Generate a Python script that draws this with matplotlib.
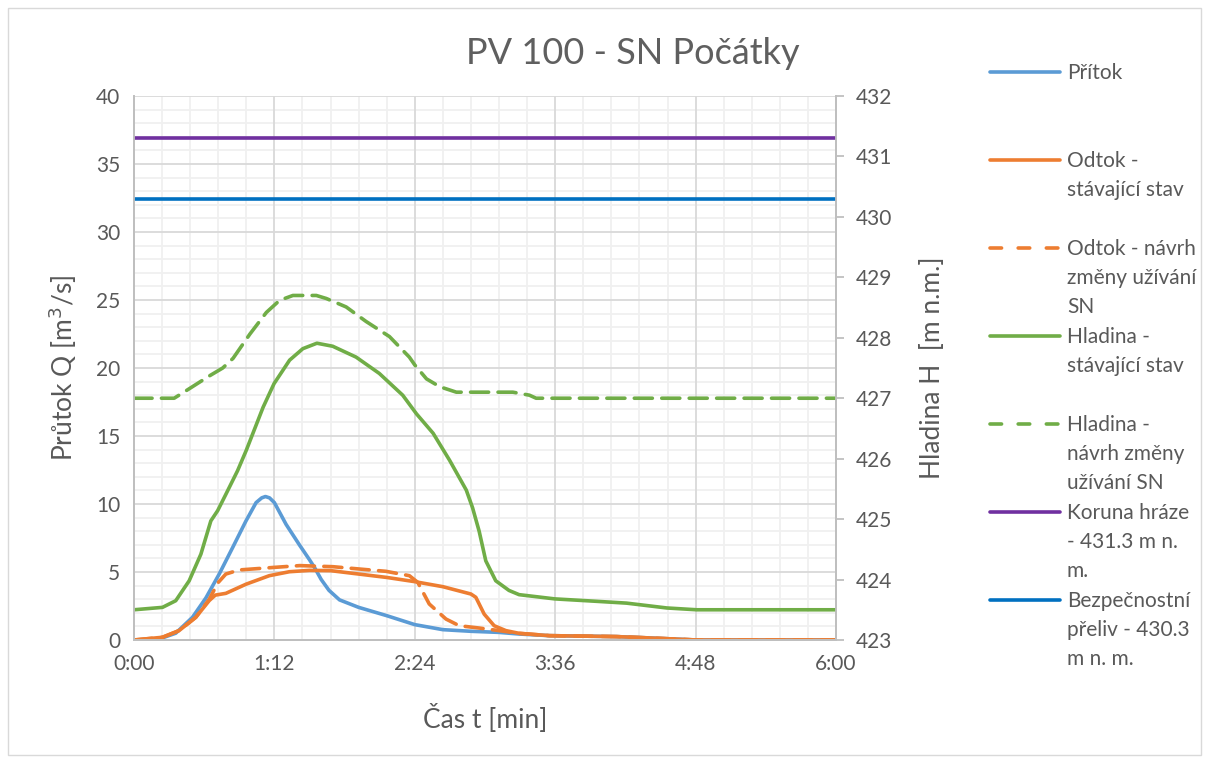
import numpy as np
import matplotlib
matplotlib.use('Agg')
import matplotlib.pyplot as plt
from matplotlib.lines import Line2D
from matplotlib.patches import Rectangle
from matplotlib.ticker import MultipleLocator, FixedLocator, FuncFormatter

plt.rcParams['font.family'] = ['Lato', 'DejaVu Sans']

# data (čas v minutách)
t_pritok = [0, 12.9, 21.4, 30, 36.9, 43.7, 50.6, 57.4, 62.6, 65.5, 67.4, 69.5, 72, 78, 84.8, 90, 92.7, 96,
            100, 105.4, 115.2, 129.6, 144, 158.4, 172.8, 187.2, 197.4, 213, 247.5, 264.6, 288.6, 360]
q_pritok = [0, 0.07, 0.5, 1.67, 3.1, 4.85, 6.8, 8.75, 10.1, 10.45, 10.55, 10.45, 10.1, 8.5, 7.0, 5.9, 5.3, 4.45,
            3.65, 2.95, 2.4, 1.79, 1.13, 0.76, 0.64, 0.56, 0.44, 0.32, 0.25, 0.15, 0.0, 0.0]

t_odtok = [0, 14.6, 23.1, 31.7, 38.6, 41.7, 47.1, 57.4, 69.4, 79.7, 90, 100.8, 115.2, 129.6, 144,
           158.4, 172.8, 175.3, 179.6, 184.7, 190.7, 197.5, 213, 247.5, 264.6, 288.6, 360]
q_odtok = [0, 0.2, 0.69, 1.67, 2.9, 3.3, 3.43, 4.1, 4.73, 5.02, 5.12, 5.1, 4.85, 4.6, 4.29,
           3.92, 3.38, 3.14, 1.9, 1.05, 0.69, 0.49, 0.32, 0.25, 0.15, 0.0, 0.0]

t_odtok_n = [0, 14.6, 23.1, 31.7, 38.6, 43, 47.1, 53.9, 72, 85, 102, 115.5, 129.2, 141.2, 145.5,
             151.4, 160, 166.8, 177, 187.2, 197.5, 213, 247.5, 264.6, 288.6, 360]
q_odtok_n = [0, 0.2, 0.69, 1.67, 3.0, 4.2, 4.85, 5.15, 5.34, 5.47, 5.39, 5.22, 5.05, 4.73, 4.24,
             2.65, 1.54, 1.05, 0.88, 0.69, 0.49, 0.32, 0.25, 0.15, 0.0, 0.0]

t_hladina = [0, 14.6, 21.4, 28.3, 34.3, 39.4, 42.9, 47.1, 53.1, 57.6, 66.2, 71.8, 79.8, 86.6, 93.8,
             101.9, 113.9, 125.8, 137.8, 144.9, 153.4, 161.9, 170.4, 173.6, 177, 180.4, 185.5,
             192.3, 197.5, 215.8, 237.2, 252.6, 273.2, 288.6, 360]
h_hladina = [423.50, 423.54, 423.65, 423.98, 424.42, 424.97, 425.14, 425.41, 425.80, 426.14,
             426.85, 427.24, 427.63, 427.82, 427.91, 427.86, 427.68, 427.41, 427.05, 426.74,
             426.42, 425.97, 425.48, 425.19, 424.80, 424.31, 423.98, 423.82, 423.75, 423.68,
             423.64, 423.61, 423.53, 423.50, 423.50]

t_hladina_n = [0, 20.6, 27.5, 38.7, 45.5, 50.8, 59.4, 67.9, 74.7, 81.5, 93.5, 98.6, 108.8, 119,
               131, 141.2, 144, 150, 156.8, 165.3, 194.3, 202.8, 206.2, 360]
h_hladina_n = [427.00, 427.00, 427.14, 427.37, 427.50, 427.66, 428.06, 428.42, 428.62, 428.70,
               428.70, 428.65, 428.51, 428.27, 428.02, 427.68, 427.55, 427.32, 427.19, 427.10,
               427.10, 427.05, 427.00, 427.00]

koruna = 431.3
preliv = 430.3

labels = ['Přítok', 'Odtok -\nstávající stav', 'Odtok - návrh\nzměny užívání\nSN',
          'Hladina -\nstávající stav', 'Hladina -\nnávrh změny\nužívání SN',
          'Koruna hráze\n- 431.3 m n.\nm.', 'Bezpečnostní\npřeliv - 430.3\nm n. m.']
colors = ['#5B9BD5', '#ED7D31', '#ED7D31', '#70AD47', '#70AD47', '#7030A0', '#0070C0']
styles = ['-', '-', '--', '-', '--', '-', '-']

x_major = [0, 72, 144, 216, 288, 360]
y_major = [0, 5, 10, 15, 20, 25, 30, 35, 40]

txt = '#595959'
lw = 2.6
dash = (5.0, 2.6)
dash_leg = (3.2, 4.6)

fig = plt.figure(figsize=(12.08, 7.6), dpi=100)
fig.add_artist(Rectangle((0.007, 0.006), 0.987, 0.984, transform=fig.transFigure,
                         fill=False, edgecolor='#D9D9D9', lw=1))
ax = fig.add_axes([134/1208, 1-640/760, (836-134)/1208, (640-96)/760])
ax2 = ax.twinx()

ax.plot(t_pritok, q_pritok, color=colors[0], lw=lw, solid_joinstyle='round')
ax.plot(t_odtok_n, q_odtok_n, color=colors[2], lw=lw, ls='--', dashes=dash, dash_capstyle='round')
ax.plot(t_odtok, q_odtok, color=colors[1], lw=lw, solid_joinstyle='round')

ax2.plot(t_hladina, h_hladina, color=colors[3], lw=lw, solid_joinstyle='round')
ax2.plot(t_hladina_n, h_hladina_n, color=colors[4], lw=lw, ls='--', dashes=dash, dash_capstyle='round')
ax2.plot([0, 360], [koruna, koruna], color=colors[5], lw=lw)
ax2.plot([0, 360], [preliv, preliv], color=colors[6], lw=lw)

ax.set_xlim(0, 360)
ax.set_ylim(0, 40)
ax2.set_ylim(423, 432)

ax.xaxis.set_major_locator(FixedLocator(x_major))
ax.xaxis.set_minor_locator(FixedLocator([m * 14.4 for m in range(26) if m % 5 != 0]))
ax.xaxis.set_major_formatter(FuncFormatter(lambda v, p: '%d:%02d' % (int(round(v)) // 60, int(round(v)) % 60)))
ax.yaxis.set_major_locator(FixedLocator(y_major))
ax.yaxis.set_minor_locator(FixedLocator([v for v in range(41) if v % 5 != 0]))
ax2.yaxis.set_major_locator(MultipleLocator(1))

# vedlejší mřížka pod hlavní
ax.grid(which='minor', color='#F0F0F0', lw=1.3)
ax.set_axisbelow(True)
for xv in x_major[1:-1]:
    ax.axvline(xv, color='#D9D9D9', lw=1.3, zorder=0.8)
for yv in y_major[1:]:
    ax.axhline(yv, color='#D9D9D9', lw=1.3, zorder=0.8)

for a in (ax, ax2):
    for s in a.spines.values():
        s.set_color('#BFBFBF')
        s.set_linewidth(1.3)
    a.spines['top'].set_visible(False)

ax.tick_params(axis='both', which='both', length=0, labelsize=15, labelcolor=txt, pad=10)
ax2.tick_params(axis='y', length=6, width=1.3, color='#BFBFBF', labelsize=15, labelcolor=txt, pad=8)

ax.set_xlabel('Čas t [min]', fontsize=19, color=txt, labelpad=22)
ax.set_ylabel('Průtok Q [m$^3$/s]', fontsize=19, color=txt, labelpad=12)
ax2.set_ylabel('Hladina H  [m n.m.]', fontsize=19, color=txt, rotation=90, labelpad=20)

fig.text(633/1208, 1-54/760, 'PV 100 - SN Počátky', ha='center', va='center',
         fontsize=26, color='#5f5f5f')

# legenda
for i, lab in enumerate(labels):
    yy = 1 - (72 + 88*i)/760
    ln = Line2D([990/1208, 1060/1208], [yy, yy], transform=fig.transFigure,
                color=colors[i], lw=lw, ls=styles[i], solid_capstyle='round')
    if styles[i] == '--':
        ln.set_dashes(dash_leg)
        ln.set_dash_capstyle('round')
    fig.add_artist(ln)
    fig.text(1067/1208, yy + 9/760, lab, ha='left', va='top', fontsize=15,
             color=txt, linespacing=1.55)

fig.savefig('out.png', dpi=100)
